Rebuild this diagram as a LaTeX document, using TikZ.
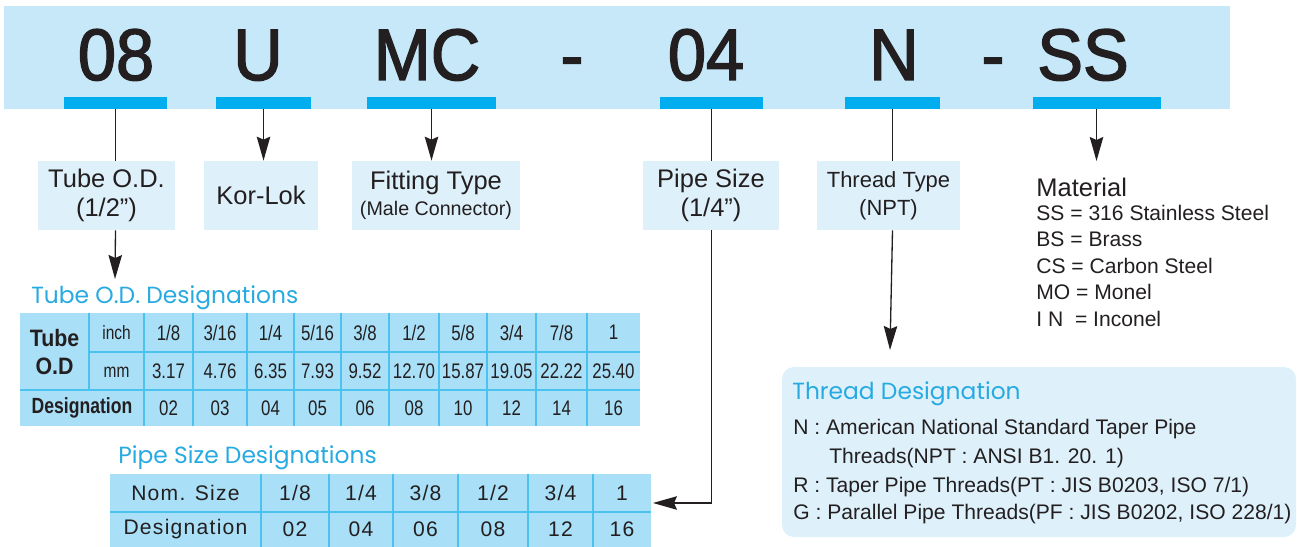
\documentclass[tikz,border=0pt]{standalone}
\usepackage{fontspec}
\setmainfont{Liberation Sans}
\newfontfamily\codefont[FakeStretch=0.94,FakeBold=2]{Liberation Sans}
\newfontfamily\tabfont[FakeStretch=0.8]{Liberation Sans}
\newfontfamily\tabheadfont[FakeStretch=0.9]{Liberation Sans}
\newfontfamily\pipefont[LetterSpace=6]{Liberation Sans}
\newfontfamily\headfont{Poppins}
\usetikzlibrary{positioning,calc}
\usetikzlibrary{arrows.meta}

\definecolor{bannerblue}{HTML}{C6E8F9}
\definecolor{barblue}{HTML}{00AEEF}
\definecolor{boxblue}{HTML}{DEF1FB}
\definecolor{tabblue}{HTML}{A9DFF7}
\definecolor{tabline}{HTML}{4CC3EE}
\definecolor{headcyan}{HTML}{27AAE1}
\definecolor{inkblack}{HTML}{231F20}

\tikzset{
  code/.style={font=\codefont\fontsize{41.5}{41.5}\selectfont, text=inkblack, anchor=base, inner sep=0pt},
  codebar/.style={fill=barblue, minimum height=0.24cm, inner sep=0pt},
  labelbox/.style={fill=boxblue, inner sep=0pt, minimum height=1.38cm, align=center, text=inkblack,
    font=\fontsize{14.5}{16.5}\selectfont},
  arr/.style={-{Stealth[length=0.48cm,width=0.27cm,inset=0.06cm]}, line width=0.75pt, inkblack},
  link/.style={line width=0.75pt, inkblack},
  headtitle/.style={font=\headfont\fontsize{13.3}{13.3}\selectfont, text=headcyan, anchor=base west, inner sep=0pt},
  listline/.style={anchor=base west, inner sep=0pt, text=inkblack, font=\fontsize{12}{12}\selectfont},
  cell/.style={inner sep=0pt, text=inkblack, font=\tabfont\fontsize{12}{12}\selectfont},
  pcell/.style={inner sep=0pt, text=inkblack, font=\pipefont\fontsize{12}{12}\selectfont},
  grid/.style={tabline, line width=0.6pt}
}

\begin{document}
\begin{tikzpicture}[x=0.02cm, y=-0.02cm]
  \useasboundingbox (0,0) rectangle (1297,547);

  % banner with the order code
  \fill[bannerblue] (4,6) rectangle (1230,109);
  \node[code] (n08) at (116,80) {08};
  \node[code] (nU)  at (258,80) {U};
  \node[code] (nMC) at (427,80) {MC};
  \node[code] (d1)  at (572,80) {-};
  \node[code] (n04) at (706,80) {04};
  \node[code] (nN)  at (894,80) {N};
  \node[code] (d2)  at (993,80) {-};
  \node[code] (nSS) at (1083,80) {SS};

  \node[codebar, minimum width=2.06cm] (bar08) at (115.5,103) {};
  \node[codebar, minimum width=1.90cm] (barU)  at (263.5,103) {};
  \node[codebar, minimum width=2.58cm] (barMC) at (431.5,103) {};
  \node[codebar, minimum width=2.06cm] (bar04) at (711.5,103) {};
  \node[codebar, minimum width=1.90cm] (barN)  at (892.5,103) {};
  \node[codebar, minimum width=2.56cm] (barSS) at (1096.5,103) {};

  % meaning of each part
  \node[labelbox, minimum width=2.74cm] (tubebox) at (106.5,195.5) {Tube O.D.\\(1/2”)};
  \node[labelbox, minimum width=2.28cm] (korbox)  at (261,195.5) {Kor-Lok};
  \node[labelbox, minimum width=3.36cm] (fitbox)  at (436,195.5) {Fitting Type\\[-2pt]{\fontsize{11.2}{12}\selectfont(Male Connector)}};
  \node[labelbox, minimum width=2.72cm] (pipebox) at (711,195.5) {Pipe Size\\(1/4”)};
  \node[labelbox, minimum width=2.86cm, font=\fontsize{12.5}{16}\selectfont] (thrbox) at (888.5,195.5) {Thread Type\\(NPT)};

  \node[anchor=base west, inner sep=0pt, text=inkblack, font=\fontsize{14.5}{14.5}\selectfont] (mat) at (1036,196) {Material};
  \node[listline] (matSS) at (1036,220) {SS = 316 Stainless Steel};
  \node[listline] (matBS) at (1036,246) {BS = Brass};
  \node[listline] (matCS) at (1036,273) {CS = Carbon Steel};
  \node[listline] (matMO) at (1036,299) {MO = Monel};
  \node[listline] (matIN) at (1036,326) {I N~ = Inconel};

  \coordinate (tubein) at (115,279);
  \coordinate (thrin) at (890,350);
  \coordinate (matin) at (1096.5,161);
  \coordinate (pipein) at (653,503);

  \draw[link] (bar08.south) -- (bar08.south |- tubebox.north);
  \draw[arr] (tubebox.south -| bar08) -- (tubein);
  \draw[arr] (barU.south) -- (barU.south |- korbox.north);
  \draw[arr] (barMC.south) -- (barMC.south |- fitbox.north);
  \draw[link] (bar04.south) -- (bar04.south |- pipebox.north);
  \draw[arr] (pipebox.south -| bar04) |- (pipein);
  \draw[link] (barN.south) -- (barN.south |- thrbox.north);
  \draw[arr] (thrbox.south -| barN) -- (thrin);
  \draw[arr] (barSS.south) -- (matin);

  % tube O.D. table
  \node[headtitle] (tubetitle) at (31,303) {Tube O.D. Designations};
  \fill[tabblue] (20,313) rectangle (640,426);
  \foreach \x in {144,193,247,294,341,389,439,487,536,587}
    \draw[grid] (\x,313) -- (\x,426);
  \draw[grid] (89,313) -- (89,390);
  \draw[grid] (89,352) -- (640,352);
  \draw[grid] (20,390) -- (640,390);
  \node[cell, font=\tabheadfont\bfseries\fontsize{13.5}{15.5}\selectfont, align=center] (tubehd) at (54.5,352) {Tube\\O.D};
  \node[cell, font=\tabfont\fontsize{11}{11}\selectfont] (inchhd) at (116.5,332.5) {inch};
  \node[cell, font=\tabfont\fontsize{11}{11}\selectfont] (mmhd) at (116.5,372) {mm};
  \node[cell, font=\tabfont\bfseries\fontsize{12.5}{12.5}\selectfont] (deshd) at (82,408) {Designation};
  \foreach \l/\r/\inch/\mm/\des [count=\k] in
    {144/193/{1/8}/3.17/02, 193/247/{3/16}/4.76/03, 247/294/{1/4}/6.35/04,
     294/341/{5/16}/7.93/05, 341/389/{3/8}/9.52/06, 389/439/{1/2}/12.70/08,
     439/487/{5/8}/15.87/10, 487/536/{3/4}/19.05/12, 536/587/{7/8}/22.22/14,
     587/640/{1}/25.40/16}{
    \node[cell] (tin\k)  at ({(\l+\r)/2},332.5) {\inch};
    \node[cell] (tmm\k)  at ({(\l+\r)/2},371) {\mm};
    \node[cell] (tdes\k) at ({(\l+\r)/2},408) {\des};
  }

  % pipe size table
  \node[headtitle] (pipetitle) at (118,463) {Pipe Size Designations};
  \fill[tabblue] (110,474) rectangle (651,547);
  \foreach \x in {261,329,393,458,528,593}
    \draw[grid] (\x,474) -- (\x,547);
  \draw[grid] (110,512) -- (651,512);
  \node[pcell] (nomhd) at (185.5,493) {Nom. Size};
  \node[pcell] (pdeshd) at (185.5,529.5) {Designation};
  \foreach \l/\r/\nom/\des [count=\k] in
    {261/329/{1/8}/02, 329/393/{1/4}/04, 393/458/{3/8}/06,
     458/528/{1/2}/08, 528/593/{3/4}/12, 593/651/{1}/16}{
    \node[pcell] (pnom\k) at ({(\l+\r)/2},493) {\nom};
    \node[pcell] (pdes\k) at ({(\l+\r)/2},529.5) {\des};
  }

  % thread designation panel
  \fill[boxblue, rounded corners=0.24cm] (782,367) rectangle (1296,537);
  \node[headtitle] (thrtitle) at (792,399) {Thread Designation};
  \node[listline] (thrN)  at (793,434) {N : American National Standard Taper Pipe};
  \node[listline] (thrN2) at (829,463) {Threads(NPT : ANSI B1. 20. 1)};
  \node[listline] (thrR)  at (793,492) {R : Taper Pipe Threads(PT : JIS B0203, ISO 7/1)};
  \node[listline] (thrG)  at (793,519) {G : Parallel Pipe Threads(PF : JIS B0202, ISO 228/1)};
\end{tikzpicture}
\end{document}
